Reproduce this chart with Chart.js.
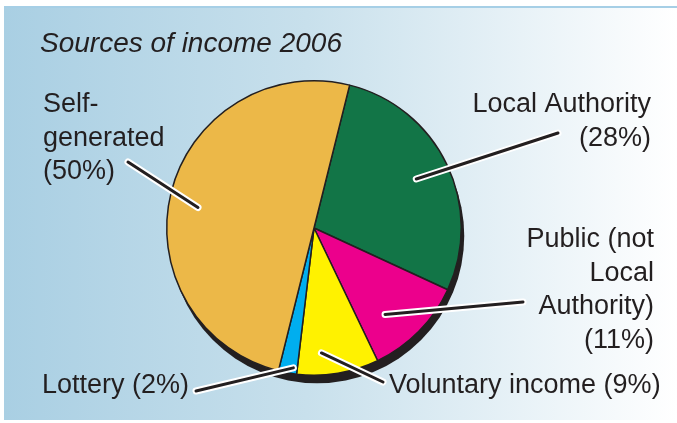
<!DOCTYPE html>
<html>
<head>
<meta charset="utf-8">
<script src="https://cdn.jsdelivr.net/npm/chart.js@4"></script>
<style>
  html, body { margin: 0; padding: 0; background: #fff; }
  #wrap { width: 677px; height: 423px; position: relative; }
</style>
</head>
<body>
<div id="wrap"><canvas id="incomeChart"></canvas></div>
<script>
/* data */
var categories = ['Local Authority', 'Public (not Local Authority)', 'Voluntary income', 'Lottery', 'Self-generated'];
var shares = [28, 11, 9, 2, 50];
var sliceColors = ['#127547', '#ec008c', '#fff200', '#00aeef', '#ecb848'];
var labelText = [
    ['Local Authority'],
    ['Public (not', 'Local', 'Authority)'],
    ['Voluntary income'],
    ['Lottery'],
    ['Self-', 'generated']
];
var chartTitle = 'Sources of income 2006';

/* label placement: anchor, alignment, leader line ends */
var labelPos = [
    { x: 651, y: 112, align: 'right', lx: 558, ly: 133, frac: 0.77, turn: 0 },
    { x: 654, y: 247, align: 'right', lx: 523, ly: 302, frac: 0.76, turn: 6 },
    { x: 389, y: 393, align: 'left', lx: 383, ly: 382, frac: 0.85, turn: 6, inline: true },
    { x: 42, y: 393, align: 'left', lx: 196, ly: 391, frac: 0.96, turn: -2, inline: true },
    { x: 43, y: 112, align: 'left', lx: 128, ly: 162, frac: 0.8, turn: -4 }
];
var ink = '#231f20';
var font = '27px "Liberation Sans", Arial, sans-serif';

/*panel background + title*/
var panelBg = {
    id: 'panelBg',
    beforeDraw: function(chart) {
        var c = chart.ctx;
        c.save();
        c.fillStyle = '#ffffff';
        c.fillRect(0, 0, chart.width, chart.height);
        var g = c.createLinearGradient(4, 0, 677, 0);
        g.addColorStop(0, '#a9cfe3');
        g.addColorStop(0.45, '#c8e0ec');
        g.addColorStop(1, '#ffffff');
        c.fillStyle = g;
        c.fillRect(4, 6, 673, 414);
        c.fillStyle = '#a6cfe6';
        c.fillRect(4, 6, 673, 2);
        c.fillStyle = ink;
        c.font = 'italic 28px "Liberation Sans", Arial, sans-serif';
        c.textBaseline = 'alphabetic';
        c.textAlign = 'left';
        c.fillText(chartTitle, 40, 52);
        c.restore();
    },
    beforeDatasetsDraw: function(chart) {
        var arc = chart.getDatasetMeta(0).data[0];
        if (!arc) return;
        var c = chart.ctx;
        c.save();
        c.fillStyle = ink;
        c.beginPath();
        c.arc(arc.x + 3, arc.y + 8, arc.outerRadius, 0, Math.PI * 2);
        c.fill();
        c.restore();
    }
};

/*labels with leader lines*/
var leaderLabels = {
    id: 'leaderLabels',
    afterDatasetsDraw: function(chart) {
        var c = chart.ctx;
        var arcs = chart.getDatasetMeta(0).data;
        c.save();
        arcs.forEach(function(arc, i) {
            var p = labelPos[i];
            var mid = (arc.startAngle + arc.endAngle) / 2 + p.turn * Math.PI / 180;
            var ix = arc.x + Math.cos(mid) * arc.outerRadius * p.frac;
            var iy = arc.y + Math.sin(mid) * arc.outerRadius * p.frac;
            c.lineCap = 'round';
            c.strokeStyle = '#ffffff';
            c.lineWidth = 7;
            c.beginPath(); c.moveTo(p.lx, p.ly); c.lineTo(ix, iy); c.stroke();
            c.strokeStyle = ink;
            c.lineWidth = 3;
            c.beginPath(); c.moveTo(p.lx, p.ly); c.lineTo(ix, iy); c.stroke();

            var lines = labelText[i].slice();
            var pct = '(' + shares[i] + '%)';
            if (p.inline) lines[lines.length - 1] += ' ' + pct;
            else lines.push(pct);
            c.fillStyle = ink;
            c.font = font;
            c.textAlign = p.align;
            c.textBaseline = 'alphabetic';
            lines.forEach(function(t, k) {
                c.fillText(t, p.x, p.y + k * 33.5);
            });
        });
        c.restore();
    }
};

var ctx = document.getElementById('incomeChart').getContext('2d');
var myChart = new Chart(ctx, {
    type: 'pie',
    data: {
        labels: categories,
        datasets: [{
            data: shares,
            backgroundColor: sliceColors,
            borderColor: ink,
            borderWidth: 1.5
        }]
    },
    options: {
        responsive: true,
        maintainAspectRatio: false,
        animation: false,
        rotation: 14,
        layout: { padding: { left: 166, right: 215, top: 80, bottom: 47 } },
        plugins: {
            legend: { display: false },
            tooltip: { enabled: false }
        }
    },
    plugins: [panelBg, leaderLabels]
});
</script>
</body>
</html>
